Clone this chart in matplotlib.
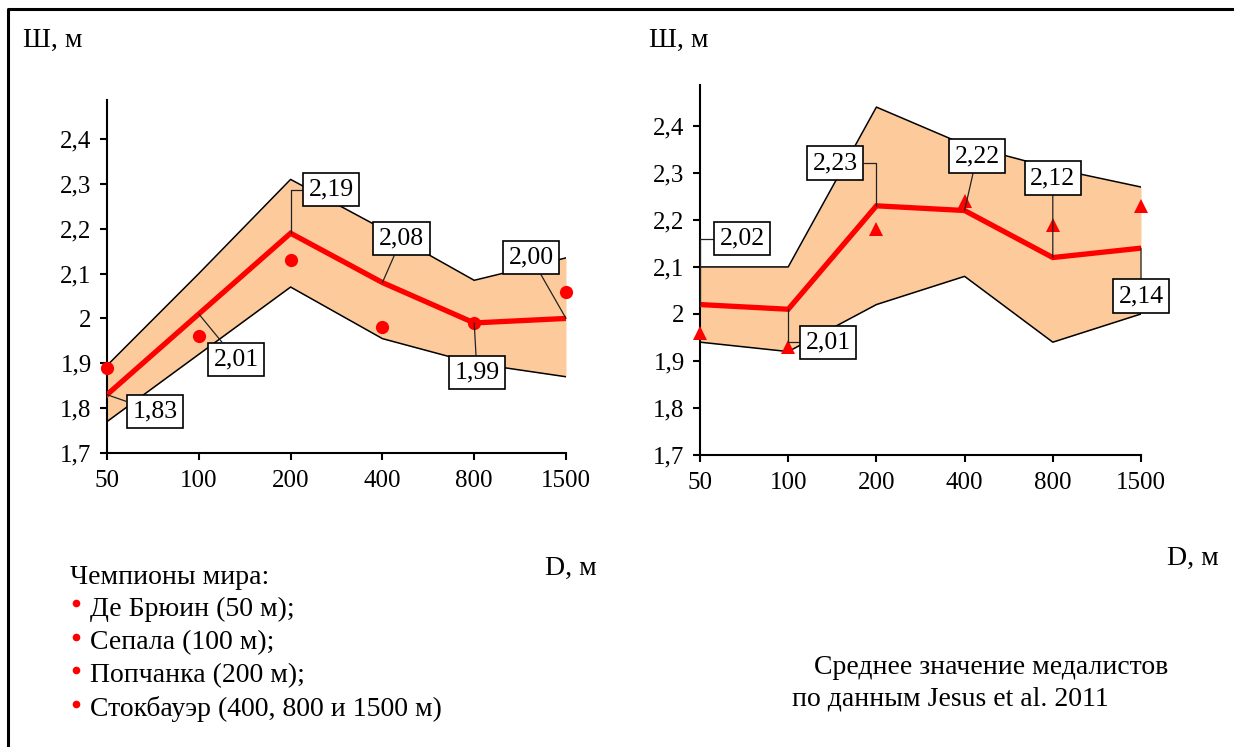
import matplotlib
matplotlib.use("Agg")
import matplotlib.pyplot as plt
from matplotlib.lines import Line2D

plt.rcParams['font.family'] = ['Liberation Serif', 'DejaVu Serif']

distances = ["50", "100", "200", "400", "800", "1500"]
yticks = [1.7, 1.8, 1.9, 2.0, 2.1, 2.2, 2.3, 2.4]
ytick_labels = ["1,7", "1,8", "1,9", "2", "2,1", "2,2", "2,3", "2,4"]

# left panel: world champions
mean_left = [1.83, 2.01, 2.19, 2.08, 1.99, 2.00]
upper_left = [1.895, 2.10, 2.31, 2.20, 2.085, 2.135]
lower_left = [1.77, 1.92, 2.07, 1.955, 1.90, 1.87]
champions = [1.89, 1.96, 2.13, 1.98, 1.99, 2.06]
labels_left = ["1,83", "2,01", "2,19", "2,08", "1,99", "2,00"]

# right panel: medalists (Jesus et al. 2011)
mean_right = [2.02, 2.01, 2.23, 2.22, 2.12, 2.14]
upper_right = [2.10, 2.10, 2.44, 2.36, 2.31, 2.27]
lower_right = [1.94, 1.92, 2.02, 2.08, 1.94, 2.00]
medalists = [1.96, 1.93, 2.18, 2.24, 2.19, 2.23]
labels_right = ["2,02", "2,01", "2,23", "2,22", "2,12", "2,14"]

legend_title = "Чемпионы мира:"
legend_items = ["Де Брюин (50 м);", "Сепала (100 м);", "Попчанка (200 м);",
                "Стокбауэр (400, 800 и 1500 м)"]

# label box centers (x in category units, y in data units) and leader style
boxpos_left = [(0.52, 1.793), (1.405, 1.909), (2.44, 2.287),
               (3.21, 2.178), (4.03, 1.880), (4.62, 2.136)]
elbow_left = [False, False, True, False, False, False]
boxpos_right = [(0.476, 2.160), (1.451, 1.940), (1.531, 2.321),
                (3.14, 2.336), (4.0, 2.289), (5.0, 2.038)]
elbow_right = [True, True, True, False, False, False]

FS = 18      # tick labels
FS_BOX = 18.5
FS_TXT = 20  # captions and legend
fill_c = "#FDCB9B"
red = "#FF0000"

fig = plt.figure(figsize=(12.34, 7.47), dpi=100)
axL = fig.add_axes([107/1234, 1-453/747, 459/1234, 353/747])
axR = fig.add_axes([700/1234, 1-455/747, 441/1234, 370/747])


def draw(ax, mean, up, lo, pts, marker, ms, labels, boxpos, elbow):
    x = list(range(len(mean)))
    ax.fill_between(x, lo, up, color=fill_c, lw=0, zorder=1)
    ax.plot(x, up, color="black", lw=1.1, zorder=2)
    ax.plot(x, lo, color="black", lw=1.1, zorder=2)
    ax.plot(x, mean, color=red, lw=3.8, zorder=3, solid_joinstyle="miter")
    ax.plot(x, pts, ls="none", marker=marker, ms=ms, color=red, mew=0,
            zorder=4, clip_on=False)
    for i, lab in enumerate(labels):
        cs = "angle,angleA=0,angleB=90,rad=0" if elbow[i] else "arc3"
        ax.annotate(lab, xy=(i, mean[i]), xytext=boxpos[i],
                    ha="center", va="center", fontsize=FS_BOX, zorder=6,
                    bbox=dict(boxstyle="square,pad=0.22", fc="white",
                              ec="black", lw=1.2),
                    arrowprops=dict(arrowstyle="-", color="#222222", lw=0.9,
                                    shrinkA=0, shrinkB=0,
                                    connectionstyle=cs))
    ax.set_xlim(0, 5)
    ax.set_ylim(1.7, 2.487)
    ax.set_xticks(x)
    ax.set_xticklabels(distances)
    ax.set_yticks(yticks)
    ax.set_yticklabels(ytick_labels)
    for s in ["top", "right"]:
        ax.spines[s].set_visible(False)
    for s in ["left", "bottom"]:
        ax.spines[s].set_linewidth(1.5)
    ax.tick_params(direction="out", length=5, width=1.5, labelsize=FS)
    ax.tick_params(axis="x", pad=7)
    ax.tick_params(axis="y", pad=6)
    ax.patch.set_alpha(0)


draw(axL, mean_left, upper_left, lower_left, champions, "o", 9.5,
     labels_left, boxpos_left, elbow_left)
draw(axR, mean_right, upper_right, lower_right, medalists, "^", 10,
     labels_right, boxpos_right, elbow_right)

# axis captions
fig.text(23/1234, 1-40/747, "Ш, м", fontsize=FS_TXT, va="center")
fig.text(649/1234, 1-40/747, "Ш, м", fontsize=FS_TXT, va="center")
fig.text(545/1234, 1-568/747, "D, м", fontsize=FS_TXT, va="center")
fig.text(1167/1234, 1-558/747, "D, м", fontsize=FS_TXT, va="center")

# legend block
fig.text(70/1234, 1-577/747, legend_title, fontsize=FS_TXT, va="center")
for k, item in enumerate(legend_items):
    yy = 609 + k * 33.5
    fig.add_artist(Line2D([76/1234], [1-(yy-6)/747], marker="o", ms=5.5,
                          color=red, mew=0, transform=fig.transFigure))
    fig.text(90/1234, 1-yy/747, item, fontsize=FS_TXT, va="center")

fig.text(814/1234, 1-667/747, "Среднее значение медалистов", fontsize=FS_TXT,
         va="center")
fig.text(792/1234, 1-699/747, "по данным Jesus et al. 2011", fontsize=FS_TXT,
         va="center")

# outer frame (top and left edges)
fig.add_artist(Line2D([8/1234, 8/1234, 1.0], [0.0, 1-9/747, 1-9/747],
                      color="black", lw=2.2, transform=fig.transFigure))

fig.savefig("out.png", dpi=100)
